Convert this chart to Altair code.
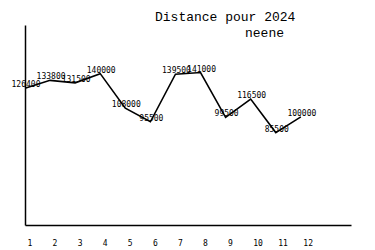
import altair as alt
import pandas as pd

months = [1, 2, 3, 4, 5, 6, 7, 8, 9, 10, 11, 12]
distances = [126400, 133800, 131500, 140000, 108000, 95500, 139500, 141000, 99500, 116500, 85500, 100000]
title_text = "Distance pour 2024"
subtitle_text = "neene"

df = pd.DataFrame({"month": months, "distance": distances})
df["label"] = df["distance"].astype(str)

FONT = "Liberation Mono"
SMALL = "DejaVu Sans Mono"

x = alt.X("month:Q",
          scale=alt.Scale(domain=[1, 14], nice=False, zero=False),
          axis=alt.Axis(values=months, title=None, grid=False, ticks=False,
                        domain=True, domainColor="black", domainWidth=1.5,
                        labelFont=SMALL, labelFontSize=8, labelColor="black",
                        labelAlign="left", labelBaseline="top", labelPadding=14,
                        labelOffset=2, labelFlush=False, labelOverlap=False,
                        labelBound=False, format="d"))
y = alt.Y("distance:Q",
          scale=alt.Scale(domain=[0, 185000], nice=False),
          axis=alt.Axis(title=None, grid=False, ticks=False, labels=False,
                        domain=True, domainColor="black", domainWidth=1.5))

line = alt.Chart(df).mark_line(color="black", strokeWidth=1.6).encode(x=x, y=y)

labels = alt.Chart(df).mark_text(font=SMALL, fontSize=8, color="black",
                                 align="center", baseline="bottom", dx=1, dy=1).encode(
    x=x, y=y, text="label:N")

t1 = alt.Chart(pd.DataFrame({"t": [title_text]})).mark_text(
    font=FONT, fontSize=13, color="black", align="left", baseline="alphabetic").encode(
    x=alt.value(130), y=alt.value(-4), text="t:N")
t2 = alt.Chart(pd.DataFrame({"t": [subtitle_text]})).mark_text(
    font=FONT, fontSize=13, color="black", align="left", baseline="alphabetic").encode(
    x=alt.value(220), y=alt.value(12), text="t:N")

chart = alt.layer(line, labels, t1, t2).properties(
    width=326, height=200,
    autosize=alt.AutoSizeParams(type="none"),
    padding={"left": 25, "top": 25, "right": 24, "bottom": 25},
    background="white",
).configure_view(stroke=None).configure_axisX(labelOverlap=False)

chart.save("out.html", embed_options={"renderer": "svg", "actions": False})
